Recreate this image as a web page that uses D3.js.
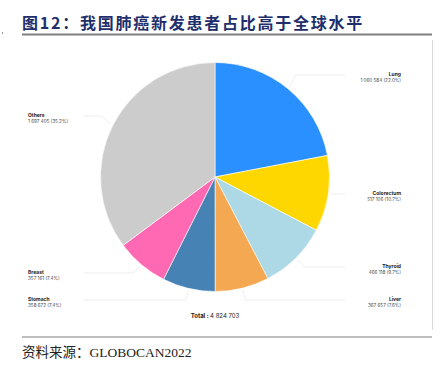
<!DOCTYPE html>
<html><head><meta charset="utf-8">
<script src="https://cdn.jsdelivr.net/npm/d3@7"></script>
<style>html,body{margin:0;padding:0;background:#fff;}svg{display:block;}</style>
</head><body>
<script>
const categories = ["Lung","Colorectum","Thyroid","Liver","Stomach","Breast","Others"];
const values = [1060584,517106,466118,367657,358672,357161,1697405];
const valueLabels = ["1 060 584 (22.0%)","517 106 (10.7%)","466 118 (9.7%)","367 657 (7.6%)","358 672 (7.4%)","357 161 (7.4%)","1 697 405 (35.2%)"];
const colors = ["#2B90FF","#FFD700","#ADD8E6","#F4A852","#4682B4","#FF69B4","#CCCCCC"];
const totalLabel = "4 824 703";
const title = "图12：我国肺癌新发患者占比高于全球水平";
const source = "资料来源：GLOBOCAN2022";

const W=441,H=365;
const svg=d3.select("body").append("svg").attr("width",W).attr("height",H);

// title
svg.append("text").attr("x",22).attr("y",28.5)
  .attr("font-family","'Noto Sans CJK SC',sans-serif").attr("font-weight",700)
  .attr("font-size",16).attr("letter-spacing",1.75).attr("fill","#1E2F6B").text(title);
svg.append("line").attr("x1",22).attr("x2",432).attr("y1",34.5).attr("y2",34.5)
  .attr("stroke","#7f7f7f").attr("stroke-width",2);
svg.append("rect").attr("x",2).attr("y",32).attr("width",1).attr("height",2).attr("fill","#999");
svg.append("line").attr("x1",432.5).attr("x2",432.5).attr("y1",40).attr("y2",330)
  .attr("stroke","#d8d8d8").attr("stroke-width",1);
svg.append("line").attr("x1",22).attr("x2",432).attr("y1",337).attr("y2",337)
  .attr("stroke","#7f7f7f").attr("stroke-width",1.2);
svg.append("text").attr("x",22).attr("y",357)
  .attr("font-family","'Liberation Serif','Noto Sans CJK SC',serif")
  .attr("font-size",13.5).attr("fill","#222").text(source);

// pie
const cx=215, cy=177, R=114.5;
const pie=d3.pie().sort(null).value(d=>d)(values);
const arc=d3.arc().innerRadius(0).outerRadius(R);
const g=svg.append("g").attr("transform",`translate(${cx},${cy})`);
g.selectAll("path").data(pie).join("path")
  .attr("d",arc).attr("fill",(d,i)=>colors[i]).attr("stroke","#fff").attr("stroke-width",0.6);

// labels: side & y for each
const labelPos = [
  {side:"r", y:77},
  {side:"r", y:196},
  {side:"r", y:269},
  {side:"r", y:302},
  {side:"l", y:302},
  {side:"l", y:275},
  {side:"l", y:118}
];
const lx={r:401, l:28};
pie.forEach((d,i)=>{
  const a=(d.startAngle+d.endAngle)/2;
  const p=labelPos[i];
  const x0=cx+(R+2)*Math.sin(a), y0=cy-(R+2)*Math.cos(a);
  const x1=cx+(R+12)*Math.sin(a);
  const ly=p.y-2;
  const lineEnd = p.side==="r"? 345 : 84;
  svg.append("path")
    .attr("d",`M${x0},${y0}L${x1},${ly}L${lineEnd},${ly}`)
    .attr("fill","none").attr("stroke","#e6e6e6").attr("stroke-width",0.7);
  const anchor = p.side==="r"?"end":"start";
  svg.append("text").attr("x",lx[p.side]).attr("y",p.y-1)
    .attr("text-anchor",anchor).attr("font-family","Inter,'Noto Sans',sans-serif")
    .attr("font-size",5).attr("font-weight",700).attr("fill","#222").text(categories[i]);
  svg.append("text").attr("x",lx[p.side]).attr("y",p.y+4.5)
    .attr("text-anchor",anchor).attr("font-family","Inter,'Noto Sans',sans-serif")
    .attr("font-size",4.6).attr("fill","#444").text(valueLabels[i]);
});
const t=svg.append("text").attr("x",215).attr("y",318).attr("text-anchor","middle")
  .attr("font-family","Inter,'Noto Sans',sans-serif").attr("font-size",6).attr("fill","#222");
t.append("tspan").attr("font-weight",700).text("Total : ");
t.append("tspan").text(totalLabel);
</script>
</body></html>
